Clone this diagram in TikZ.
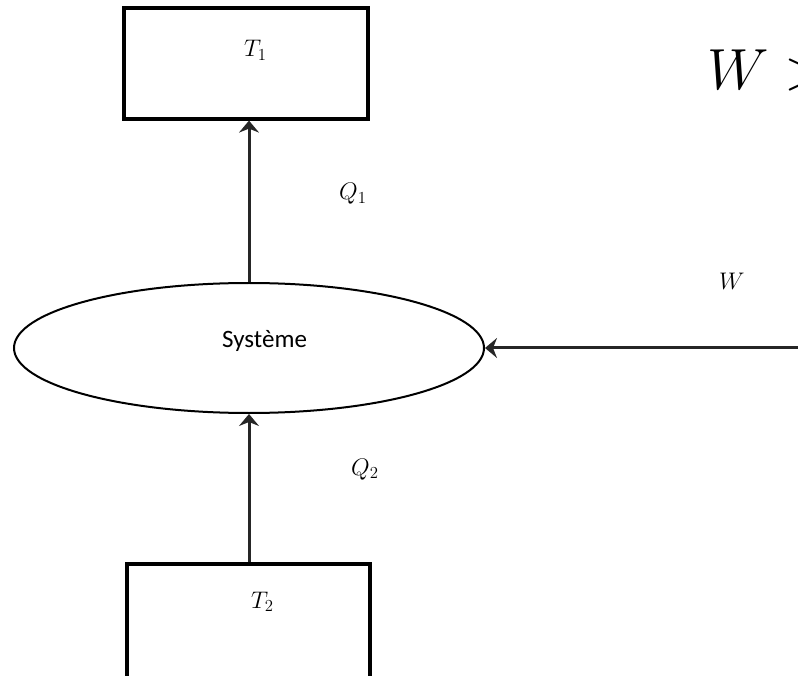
\RequirePackage{fix-cm}
\documentclass[tikz,border=0pt]{standalone}
\usepackage{fontspec}
\newfontfamily\labelfont{Carlito}
\usetikzlibrary{shapes.geometric,arrows.meta}

\tikzset{
  reservoir/.style={draw=black, line width=3.2pt, rectangle, inner sep=0pt},
  systeme/.style={draw=black, line width=2pt, ellipse, inner sep=0pt,
                  minimum width=470pt, minimum height=130pt},
  flux/.style={line width=3pt, draw=black!85,
               -{Stealth[length=12pt, width=20pt, inset=4pt]}},
  mathlbl/.style={anchor=base west, inner sep=0pt,
                  font=\fontsize{24}{28}\selectfont},
  biglbl/.style={anchor=base west, inner sep=0pt,
                 font=\fontsize{58}{64}\selectfont},
  txtlbl/.style={anchor=base west, inner sep=0pt,
                 font=\labelfont\fontsize{25}{30}\selectfont}
}

\begin{document}
\begin{tikzpicture}[x=1pt, y=-1pt]
  \useasboundingbox (0,0) rectangle (798,676);
  \clip (0,0) rectangle (798,676);

  % hot and cold reservoirs
  \node[reservoir, minimum width=244pt, minimum height=111pt] (hot) at (246,63.5) {};
  \node[reservoir, minimum width=243pt, minimum height=140pt] (cold) at (248.5,634) {};

  % the working system
  \node[systeme] (sys) at (249,348) {};
  \node[txtlbl] (systxt) at (222,348) {Système};

  % reservoir temperatures
  \node[mathlbl] (t1) at (244,57) {$T_1$};
  \node[mathlbl] (t2) at (251,608) {$T_2$};

  % heat and work exchanges
  \draw[flux] (sys.north) -- (sys.north |- hot.south);
  \draw[flux] (sys.south |- cold.north) -- (sys.south);
  \coordinate (wsrc) at (800,348);
  \draw[flux] (wsrc) -- (sys.east);

  \node[mathlbl] (q1) at (339,200) {$Q_1$};
  \node[mathlbl] (q2) at (351,475) {$Q_2$};
  \node[mathlbl] (w) at (719,290) {$W$};

  % condition on the work
  \node[biglbl] (cond) at (707,90) {$W >$};
\end{tikzpicture}
\end{document}
